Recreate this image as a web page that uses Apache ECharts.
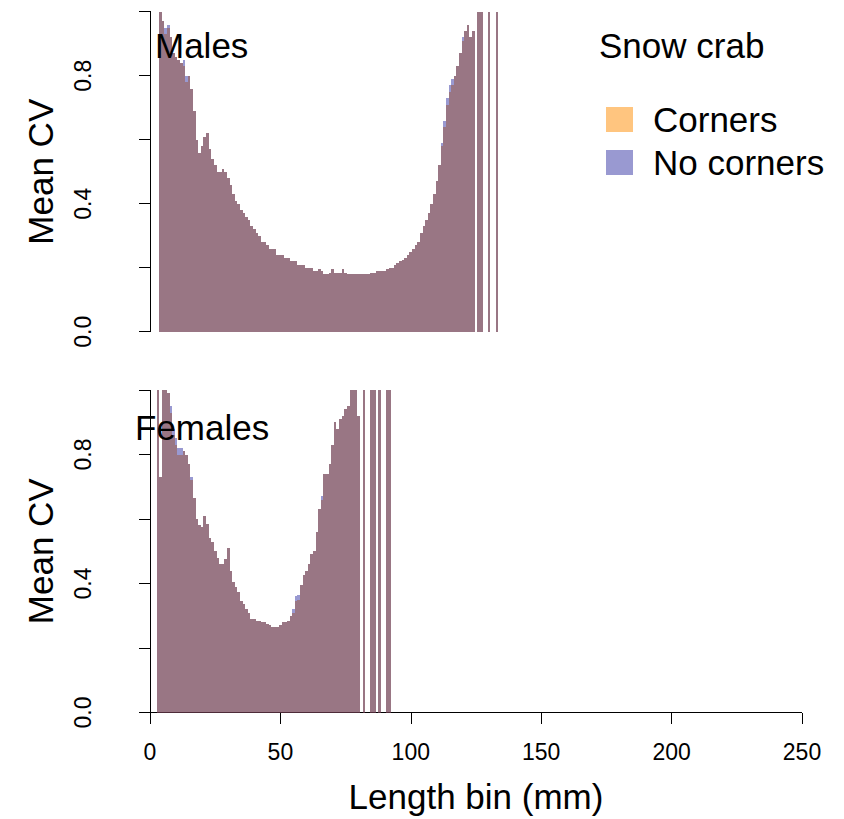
<!DOCTYPE html>
<html>
<head>
<meta charset="utf-8">
<script src="https://cdn.jsdelivr.net/npm/echarts@6/dist/echarts.min.js"></script>
<style>
html,body{margin:0;padding:0;background:#fff}
#c{width:844px;height:819px}
#c svg path{shape-rendering:crispEdges}
</style>
</head>
<body>
<div id="c"></div>
<script>
// ---------- DATA ----------
const seriesNames = ['Corners', 'No corners'];
const legendTitle = 'Snow crab';
const panelLabels = ['Males', 'Females'];
const yTickLabels = ['0.0', '0.4', '0.8'];
const xTicks = [0, 50, 100, 150, 200, 250];

const maleBins = [4,5,6,7,8,9,10,11,12,13,14,15,16,17,18,19,20,21,22,23,24,25,26,27,28,29,30,31,32,33,34,35,36,37,38,39,40,41,42,43,44,45,46,47,48,49,50,51,52,53,54,55,56,57,58,59,60,61,62,63,64,65,66,67,68,69,70,71,72,73,74,75,76,77,78,79,80,81,82,83,84,85,86,87,88,89,90,91,92,93,94,95,96,97,98,99,100,101,102,103,104,105,106,107,108,109,110,111,112,113,114,115,116,117,118,119,120,121,122,123,124,126,127,130,133];
const maleCorners = [1.2,0.97,0.93,0.95,0.92,0.87,0.86,0.85,0.84,0.83,
  0.78,0.80,0.76,0.69,0.60,0.56,0.58,0.61,0.62,0.57,
  0.54,0.52,0.50,0.50,0.51,0.50,0.48,0.46,0.43,0.41,
  0.40,0.38,0.37,0.36,0.35,0.33,0.32,0.31,0.30,0.28,
  0.28,0.27,0.26,0.26,0.26,0.24,0.24,0.24,0.23,0.23,
  0.22,0.22,0.22,0.21,0.21,0.21,0.20,0.20,0.20,0.19,
  0.19,0.195,0.19,0.18,0.18,0.185,0.195,0.185,0.185,0.185,
  0.195,0.185,0.18,0.18,0.18,0.18,0.18,0.18,0.18,0.18,
  0.18,0.185,0.185,0.19,0.19,0.19,0.19,0.195,0.20,0.20,
  0.21,0.215,0.22,0.225,0.23,0.24,0.25,0.26,0.27,0.28,
  0.31,0.33,0.35,0.37,0.40,0.43,0.47,0.52,0.58,0.64,
  0.71,0.75,0.77,0.80,0.83,0.87,0.91,0.94,0.96,0.92,0.94,
  1.2,1.2,1.2,1.2];
const maleNoCorners = [1.2,0.97,0.95,0.96,0.92,0.87,0.86,0.85,0.84,0.85,
  0.80,0.80,0.76,0.69,0.60,0.56,0.58,0.61,0.62,0.57,
  0.54,0.52,0.50,0.50,0.51,0.50,0.48,0.46,0.43,0.41,
  0.40,0.38,0.37,0.36,0.35,0.33,0.32,0.31,0.30,0.28,
  0.28,0.27,0.26,0.26,0.26,0.24,0.24,0.24,0.23,0.23,
  0.22,0.22,0.22,0.21,0.21,0.21,0.20,0.20,0.20,0.19,
  0.19,0.195,0.19,0.18,0.18,0.185,0.195,0.185,0.185,0.185,
  0.195,0.185,0.18,0.18,0.18,0.18,0.18,0.18,0.18,0.18,
  0.18,0.185,0.185,0.19,0.19,0.19,0.19,0.195,0.20,0.20,
  0.21,0.215,0.22,0.225,0.23,0.24,0.25,0.26,0.27,0.28,
  0.31,0.33,0.35,0.37,0.40,0.43,0.47,0.52,0.59,0.66,
  0.73,0.77,0.79,0.80,0.83,0.87,0.92,0.94,0.96,0.92,0.94,
  1.2,1.2,1.2,1.2];

const femaleBins = [3,4,5,6,7,8,9,10,11,12,13,14,15,16,17,18,19,20,21,22,23,24,25,26,27,28,29,30,31,32,33,34,35,36,37,38,39,40,41,42,43,44,45,46,47,48,49,50,51,52,53,54,55,56,57,58,59,60,61,62,63,64,65,66,67,68,69,70,71,72,73,74,75,76,77,78,79,80,82,85,86,88,91,92];
const femaleCorners = [1.2,0.73,1.2,1.2,0.99,0.93,0.86,0.83,0.80,0.80,
  0.81,0.80,0.77,0.72,0.665,0.60,0.58,0.575,0.61,0.585,
  0.54,0.53,0.50,0.48,0.46,0.46,0.475,0.51,0.44,0.405,
  0.39,0.375,0.345,0.335,0.32,0.31,0.29,0.29,0.285,0.285,
  0.28,0.28,0.275,0.27,0.265,0.265,0.265,0.27,0.28,0.28,
  0.285,0.30,0.31,0.345,0.35,0.395,0.425,0.44,0.46,0.49,
  0.50,0.56,0.63,0.66,0.74,0.74,0.77,0.83,0.90,0.88,
  0.91,0.92,0.94,0.95,1.2,1.2,1.2,0.92,
  1.2,1.2,1.2,1.2,1.2,1.2];
const femaleNoCorners = [1.2,0.73,1.2,1.2,0.99,0.95,0.88,0.85,0.82,0.82,
  0.81,0.80,0.77,0.73,0.665,0.60,0.58,0.575,0.61,0.585,
  0.54,0.53,0.50,0.48,0.46,0.46,0.475,0.51,0.44,0.405,
  0.39,0.375,0.345,0.335,0.32,0.31,0.29,0.29,0.285,0.285,
  0.28,0.28,0.275,0.27,0.265,0.265,0.265,0.27,0.28,0.28,
  0.285,0.30,0.32,0.36,0.365,0.395,0.425,0.44,0.46,0.49,
  0.50,0.56,0.63,0.67,0.74,0.74,0.77,0.83,0.90,0.88,
  0.91,0.92,0.94,0.95,1.2,1.2,1.2,0.92,
  1.2,1.2,1.2,1.2,1.2,1.2];

// ---------- CHART ----------
const FONT = '"Liberation Sans", Arial, Helvetica, sans-serif';
const COL_CORNERS = 'rgba(255,140,0,0.5)';
const COL_NOCORNERS = 'rgba(0,0,139,0.4)';
const pair = (bins, vals) => bins.map((b, i) => [b, vals[i]]);

const txt = (size) => ({fontFamily: FONT, fontSize: size, color: '#000', fontWeight: 'normal'});

function yAxisFor(gi) {
  return {
    type: 'value', gridIndex: gi, min: 0, max: 1, interval: 0.2, offset: 26,
    name: 'Mean CV', nameLocation: 'middle', nameGap: 66, nameRotate: 90,
    nameTextStyle: txt(35),
    axisLine: {show: true, lineStyle: {color: '#000', width: 1}},
    axisTick: {show: true, length: 11, lineStyle: {color: '#000', width: 1}},
    axisLabel: Object.assign(txt(23), {
      rotate: 90, margin: 30,
      formatter: v => { const s = v.toFixed(1); return yTickLabels.indexOf(s) >= 0 ? s : ''; }
    }),
    splitLine: {show: false}
  };
}

function barSeries(name, gi, bins, vals, color) {
  return {
    name: name, type: 'bar', xAxisIndex: gi, yAxisIndex: gi,
    data: pair(bins, vals), barWidth: '100%', barGap: '-100%',
    itemStyle: {color: color, borderWidth: 0}, clip: true, silent: true
  };
}

const chart = echarts.init(document.getElementById('c'), null, {renderer: 'svg'});
chart.setOption({
  animation: false,
  backgroundColor: '#fff',
  title: [
    {text: legendTitle, left: 599, top: 28, padding: 0, textStyle: txt(35)},
    {text: panelLabels[0], left: 155, top: 28, padding: 0, textStyle: txt(35)},
    {text: panelLabels[1], left: 135, top: 410, padding: 0, textStyle: txt(35)}
  ],
  legend: {
    orient: 'vertical', left: 606, top: 102, padding: 0, itemGap: 8,
    itemWidth: 27, itemHeight: 25, icon: 'rect', selectedMode: false,
    textStyle: Object.assign(txt(35), {padding: [0, 0, 0, 15]}),
    data: seriesNames
  },
  grid: [
    {left: 150, top: 11.7, width: 652, height: 320, containLabel: false},
    {left: 150, top: 390, width: 652, height: 322.5, containLabel: false}
  ],
  xAxis: [
    {type: 'value', gridIndex: 0, min: xTicks[0], max: xTicks[xTicks.length - 1], show: false},
    {
      type: 'value', gridIndex: 1, min: xTicks[0], max: xTicks[xTicks.length - 1], interval: 50,
      name: 'Length bin (mm)', nameLocation: 'middle', nameGap: 66, nameTextStyle: txt(35),
      axisLine: {show: true, lineStyle: {color: '#000', width: 1}},
      axisTick: {show: true, length: 11, lineStyle: {color: '#000', width: 1}},
      axisLabel: Object.assign(txt(23), {margin: 28}),
      splitLine: {show: false}
    }
  ],
  yAxis: [yAxisFor(0), yAxisFor(1)],
  series: [
    barSeries(seriesNames[0], 0, maleBins, maleCorners, COL_CORNERS),
    barSeries(seriesNames[1], 0, maleBins, maleNoCorners, COL_NOCORNERS),
    barSeries(seriesNames[0], 1, femaleBins, femaleCorners, COL_CORNERS),
    barSeries(seriesNames[1], 1, femaleBins, femaleNoCorners, COL_NOCORNERS)
  ]
});
</script>
</body>
</html>
